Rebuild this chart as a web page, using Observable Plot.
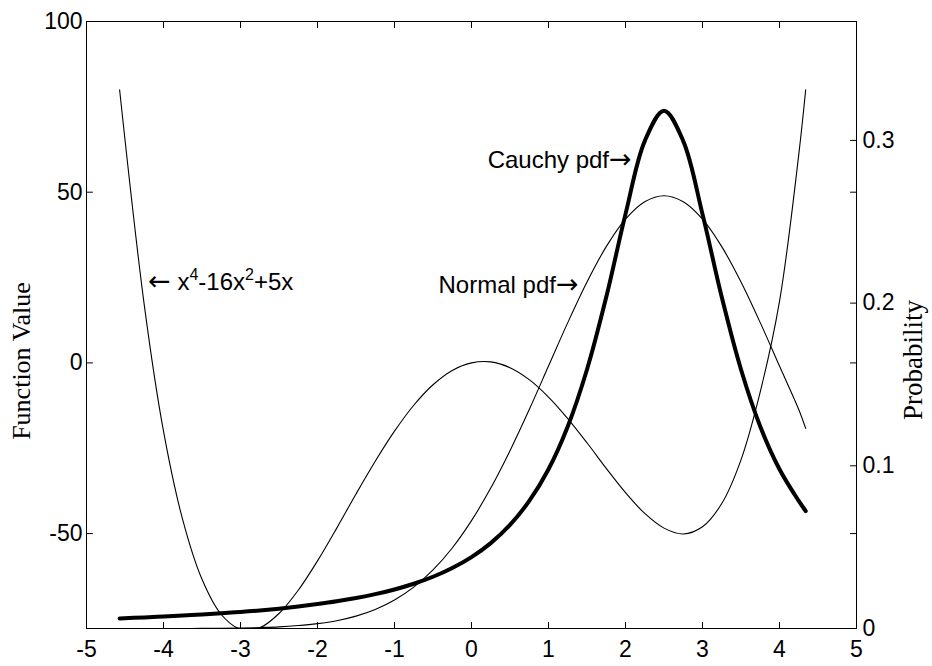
<!DOCTYPE html>
<html><head><meta charset="utf-8">
<script src="https://cdn.jsdelivr.net/npm/d3@7"></script>
<script src="https://cdn.jsdelivr.net/npm/@observablehq/plot@0.6"></script>
<style>
html,body{margin:0;padding:0;background:#fff;}
#wrap{position:relative;width:932px;height:666px;overflow:hidden;}
#wrap svg{position:absolute;left:0;top:0;max-width:none;}
</style></head><body><div id="wrap"></div>
<script>
// ---- data ----
const xs = [-4.57,-4.25,-4,-3.75,-3.5,-3.25,-3,-2.75,-2.5,-2.25,-2,-1.75,-1.5,-1.25,-1,-0.75,-0.5,-0.25,0,0.25,0.5,0.75,1,1.25,1.5,1.75,2,2.25,2.5,2.75,3,3.25,3.5,3.75,4,4.25,4.34];
const quartic = [80,17,-20,-46,-63.4,-73.7,-78,-77.6,-73.4,-66.6,-58,-48.4,-38.4,-28.8,-20,-12.4,-6.4,-2.2,0,0.3,-1.4,-4.9,-10,-16.3,-23.4,-30.9,-38,-44.1,-48.4,-50.1,-48,-41.2,-28.4,-8.5,18,61,80];
const normalPdf = [0,0,0,0,0.0001,0.0002,0.0003,0.0006,0.001,0.0018,0.003,0.0048,0.0076,0.0117,0.0175,0.0254,0.036,0.0495,0.0663,0.0863,0.1093,0.1346,0.1613,0.188,0.213,0.2347,0.2516,0.2623,0.266,0.2623,0.2516,0.2347,0.213,0.188,0.1613,0.1346,0.123];
const cauchyPdf = [0.0062,0.0068,0.0074,0.008,0.0086,0.0093,0.0102,0.0111,0.0122,0.0135,0.015,0.0167,0.0187,0.0211,0.024,0.0275,0.0318,0.0372,0.0439,0.0525,0.0637,0.0784,0.0979,0.1242,0.1592,0.2037,0.2547,0.2996,0.3183,0.2996,0.2547,0.2037,0.1592,0.1242,0.0979,0.0784,0.0722];

const xTicks = [-5,-4,-3,-2,-1,0,1,2,3,4,5];
const leftTicks = [-50,0,50,100];
const rightTicks = [0,0.1,0.2,0.3];
const xDomain = [-5,5];
const leftDomain = [-77.8,100];
const rightDomain = [0,0.3731];

const leftLabel = "Function Value";
const rightLabel = "Probability";
const quarticNote = {x:-4.2, y:23.5, parts:["\u2190","x","4","-16x","2","+5x"]};
const probNotes = [
  {x:2.08, y:0.288, t:"Cauchy pdf", arrow:"\u2192"},
  {x:1.39, y:0.211, t:"Normal pdf", arrow:"\u2192"}
];

// ---- drawing ----
const sans = "'Liberation Sans', Arial, Helvetica, sans-serif";
const serif = "'Liberation Serif', 'Times New Roman', serif";
const arrowFont = "'DejaVu Sans', sans-serif";
const fmt = d => String(d);
const common = {
  width: 932, height: 666,
  marginLeft: 86, marginRight: 76, marginTop: 21, marginBottom: 38,
  style: {background: "transparent", fontFamily: sans, fontSize: "23px", color: "black"}
};
const tickShape = {draw(context, l) { context.moveTo(0, 0); context.lineTo(0, -l); }};
const tick = (data, channel, anchor, rotate) => Plot.vector(data, {
  [channel]: d => d, frameAnchor: anchor, rotate, length: 6, anchor: "start",
  shape: tickShape, stroke: "black", strokeWidth: 1
});

const rowsQ = xs.map((x, i) => ({x, v: quartic[i]}));
const rowsP = xs.map((x, i) => ({x, n: normalPdf[i], c: cauchyPdf[i]}));

const plotA = Plot.plot({
  ...common,
  x: {domain: xDomain},
  y: {domain: leftDomain},
  marks: [
    Plot.frame({stroke: "black", strokeWidth: 1}),
    Plot.axisX({ticks: xTicks, anchor: "bottom", tickSize: 0, tickPadding: 12, tickFormat: fmt, label: null, fontSize: 23, fontFamily: sans}),
    Plot.axisY({ticks: leftTicks, anchor: "left", tickSize: 0, tickPadding: 4, tickFormat: fmt, label: null, fontSize: 23, fontFamily: sans}),
    tick(xTicks, "x", "bottom", 0),
    tick(xTicks, "x", "top", 180),
    tick(leftTicks, "y", "left", 90),
    tick(leftTicks, "y", "right", -90),
    Plot.line(rowsQ, {x: "x", y: "v", stroke: "black", strokeWidth: 1.1, curve: "catmull-rom", clip: true}),
    Plot.text([leftLabel], {frameAnchor: "left", dx: -65, dy: 36, rotate: -90, text: d => d, fontFamily: serif, fontSize: 26, textAnchor: "middle", lineAnchor: "middle", fill: "black"}),
    Plot.text([quarticNote], {x: "x", y: "y", text: d => d.parts.join(""), textAnchor: "start", lineAnchor: "middle", fontFamily: sans, fontSize: 24, fill: "black", className: "qnote"})
  ]
});

const plotB = Plot.plot({
  ...common,
  x: {domain: xDomain, axis: null},
  y: {domain: rightDomain},
  marks: [
    Plot.axisY({ticks: rightTicks, anchor: "right", tickSize: 0, tickPadding: 6, tickFormat: fmt, label: null, fontSize: 23, fontFamily: sans}),
    tick(rightTicks, "y", "right", -90),
    Plot.line(rowsP, {x: "x", y: "n", stroke: "black", strokeWidth: 1.1, curve: "catmull-rom"}),
    Plot.line(rowsP, {x: "x", y: "c", stroke: "black", strokeWidth: 4, curve: "catmull-rom", strokeLinejoin: "round"}),
    Plot.text([rightLabel], {frameAnchor: "right", dx: 57, dy: 35, rotate: -90, text: d => d, fontFamily: serif, fontSize: 27, textAnchor: "middle", lineAnchor: "middle", fill: "black"}),
    Plot.text(probNotes, {x: "x", y: "y", text: d => d.t + d.arrow, textAnchor: "end", lineAnchor: "middle", fontFamily: sans, fontSize: 24, fill: "black", className: "pnote"})
  ]
});

const wrap = document.getElementById("wrap");
wrap.appendChild(plotA);
wrap.appendChild(plotB);

// superscripts and arrow glyphs inside the notes
d3.select(plotA).selectAll(".qnote text").each(function() {
  const t = d3.select(this);
  t.text(null);
  const p = quarticNote.parts;
  t.append("tspan").attr("font-family", arrowFont).attr("font-size", 27).text(p[0]);
  t.append("tspan").text(" " + p[1]);
  t.append("tspan").attr("dy", -10).attr("font-size", 16).text(p[2]);
  t.append("tspan").attr("dy", 10).text(p[3]);
  t.append("tspan").attr("dy", -10).attr("font-size", 16).text(p[4]);
  t.append("tspan").attr("dy", 10).text(p[5]);
});
d3.select(plotB).selectAll(".pnote text").each(function(_, i) {
  const t = d3.select(this);
  t.text(null);
  t.append("tspan").text(probNotes[i].t);
  t.append("tspan").attr("font-family", arrowFont).attr("font-size", 27).text(probNotes[i].arrow);
});
</script>
</body></html>
